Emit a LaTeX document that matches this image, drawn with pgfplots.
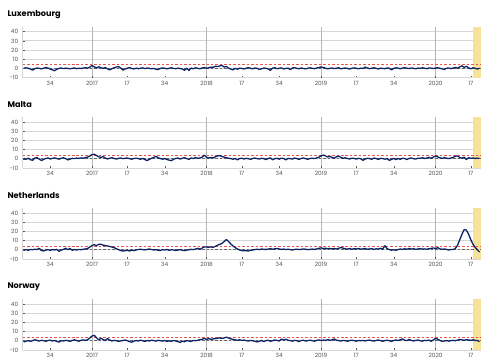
\documentclass[border=0pt]{standalone}
\usepackage{fontspec}
\setmainfont{Poppins}
\usepackage{pgfplots}
\pgfplotsset{compat=1.18}
\definecolor{navy}{HTML}{0B2466}
\definecolor{redz}{HTML}{E8554E}
\definecolor{band}{HTML}{F7E29A}
\definecolor{gridc}{HTML}{D6D6D6}
\definecolor{yearc}{HTML}{B5B5B5}
\definecolor{tickc}{HTML}{555555}
\pgfplotsset{
  panel/.style={
    scale only axis, width=458bp, height=50.6bp,
    xmin=-31.5, xmax=176.5, ymin=-10, ymax=45,
    axis lines*=left, axis line style={gridc, line width=0.8pt},
    ytick={-10,0,10,20,30,40},
    ymajorgrids, major grid style={gridc, line width=0.8pt},
    xtick={-19,0,16,33,52,68,85,104,120,137,156,172},
    xticklabels={34,2017,17,34,2018,17,34,2019,17,34,2020,17},
    extra x ticks={0,52,104,156}, extra x tick labels={},
    extra x tick style={grid=major, major grid style={yearc, line width=0.7pt}},
    tick style={tickc, line width=0.4pt}, major tick length=2bp,
    ticklabel style={font=\fontsize{5.8}{6}\selectfont, text=tickc},
    /pgf/number format/assume math mode=true,
    yticklabel style={xshift=-1bp},
    clip=false,
  },
  zline/.style={navy, line width=1.3bp, line join=round},
}
\newcommand{\panelextras}{%
  \fill[band] (axis cs:173,-10) rectangle (axis cs:176.5,45);
  \addplot[gray!80!black, dash pattern=on 2.5pt off 2pt, line width=0.9pt] coordinates {(-31.5,0) (176.5,0)};
  \addplot[redz, dash pattern=on 2.5pt off 2pt, line width=0.8pt] coordinates {(-31.5,4) (176.5,4)};
}
\begin{document}
\begin{tikzpicture}
\useasboundingbox (0,0) rectangle (485bp,362bp);
% Luxembourg
\begin{axis}[panel, at={(22.7bp,284.3bp)}, anchor=south west]
\panelextras
\addplot[zline] table[row sep=\\, y index=0, x expr=\coordindex-31] {y\\
0.2\\0.8\\0.3\\-0.5\\-1.8\\-0.2\\0.6\\0.1\\-0.4\\0.3\\
1.2\\0.4\\-0.6\\-1.5\\-2.4\\-0.8\\0.2\\0.5\\-0.1\\0.4\\
0.1\\-0.3\\0.2\\0.6\\-0.2\\0.3\\0.0\\0.5\\0.9\\0.4\\
1.5\\3.2\\1.8\\0.6\\1.9\\0.8\\0.2\\1.1\\-0.4\\-1.5\\
-0.3\\0.8\\1.6\\2.1\\0.5\\-1.8\\-0.6\\0.3\\0.9\\0.1\\
-0.5\\0.4\\-0.2\\0.3\\0.7\\-0.1\\0.5\\0.2\\-0.3\\0.1\\
-0.8\\-1.2\\0.1\\0.6\\0.3\\-0.4\\0.2\\0.8\\0.1\\-0.2\\
0.4\\0.0\\-0.6\\-1.9\\0.3\\-2.1\\0.5\\-0.3\\0.8\\0.2\\
-0.4\\0.6\\1.0\\0.3\\0.8\\1.5\\1.2\\2.4\\2.1\\2.8\\
3.4\\1.6\\2.2\\0.4\\-0.6\\-1.5\\0.2\\-0.8\\0.4\\0.1\\
-0.5\\0.3\\0.9\\0.2\\-0.4\\0.6\\0.1\\-1.0\\-0.3\\0.5\\
0.2\\-0.6\\-2.0\\0.4\\0.8\\-0.2\\0.3\\0.7\\-0.5\\0.1\\
0.4\\-1.2\\0.5\\0.9\\0.2\\-0.3\\0.6\\0.0\\-0.4\\0.3\\
0.8\\0.2\\-0.2\\0.5\\1.0\\1.6\\1.2\\0.4\\-0.3\\0.2\\
0.6\\-0.1\\0.3\\0.9\\-0.4\\0.2\\0.5\\0.1\\-0.6\\0.3\\
0.7\\0.2\\-0.3\\0.4\\0.0\\1.5\\0.6\\-0.2\\0.3\\0.8\\
0.2\\-0.5\\0.4\\0.1\\-0.2\\0.6\\0.3\\-1.6\\0.2\\0.7\\
0.4\\-0.3\\0.5\\0.9\\0.3\\-0.1\\0.6\\0.2\\-0.4\\0.5\\
0.1\\0.8\\0.3\\-0.2\\0.6\\0.4\\0.0\\0.5\\0.9\\0.2\\
-0.4\\-1.0\\0.3\\0.6\\-0.2\\0.5\\1.2\\0.3\\1.8\\2.9\\
1.2\\2.4\\0.6\\-0.3\\0.8\\0.2\\-0.5\\0.3\\
};
\end{axis}
% Malta
\begin{axis}[panel, at={(22.7bp,194bp)}, anchor=south west]
\panelextras
\addplot[zline] table[row sep=\\, y index=0, x expr=\coordindex-31] {y\\
0.3\\-0.5\\0.6\\-1.0\\-1.6\\0.8\\1.2\\-0.3\\-1.8\\-0.6\\
0.4\\0.9\\-0.2\\0.5\\1.0\\0.3\\-0.4\\0.6\\1.1\\0.2\\
-1.2\\-0.3\\0.5\\0.2\\0.8\\0.4\\1.0\\0.6\\1.3\\1.8\\
3.0\\4.6\\4.9\\3.6\\2.2\\1.5\\2.4\\0.8\\-0.2\\0.6\\
1.2\\0.4\\-0.3\\0.5\\0.8\\0.2\\0.6\\0.9\\0.1\\-0.4\\
0.3\\0.7\\0.2\\-0.5\\0.4\\-0.8\\-1.9\\-0.6\\0.5\\1.4\\
2.6\\1.2\\0.3\\-0.4\\0.2\\-0.8\\-1.4\\-2.0\\-0.5\\0.4\\
0.8\\-0.3\\0.6\\1.2\\0.2\\-0.6\\0.9\\0.3\\1.4\\0.5\\
1.0\\1.8\\3.9\\1.6\\0.9\\1.3\\1.0\\2.2\\3.1\\3.4\\
2.5\\1.8\\1.2\\0.6\\0.2\\-0.5\\0.4\\-1.2\\0.3\\0.6\\
-0.2\\0.5\\0.1\\-0.6\\0.4\\0.8\\0.2\\-0.3\\0.6\\0.1\\
-0.8\\0.4\\0.9\\-1.0\\0.2\\0.5\\-0.4\\0.7\\0.3\\-1.2\\
0.5\\0.1\\-0.3\\0.8\\0.2\\-0.6\\0.4\\0.9\\0.1\\-0.5\\
0.3\\0.7\\0.2\\0.9\\1.8\\3.0\\4.1\\3.2\\1.9\\2.6\\
1.4\\0.8\\2.2\\2.9\\1.6\\0.5\\1.1\\0.3\\-0.2\\0.6\\
0.4\\-0.3\\0.5\\0.1\\-1.6\\-0.4\\0.6\\0.2\\-0.5\\0.8\\
0.3\\-0.7\\0.5\\0.2\\-0.4\\0.1\\-1.7\\-0.6\\0.4\\-0.9\\
0.2\\-0.5\\0.6\\0.3\\-0.8\\0.4\\0.9\\0.1\\-0.3\\0.7\\
0.5\\1.2\\0.4\\0.8\\1.6\\0.6\\1.9\\3.2\\2.0\\1.1\\
0.4\\1.3\\0.6\\0.2\\0.9\\1.5\\2.8\\3.1\\1.4\\0.6\\
1.8\\-0.8\\1.2\\0.5\\0.9\\0.4\\0.7\\0.5\\
};
\end{axis}
% Netherlands
\begin{axis}[panel, at={(22.7bp,103bp)}, anchor=south west]
\panelextras
\addplot[zline] table[row sep=\\, y index=0, x expr=\coordindex-31] {y\\
-0.3\\0.2\\-0.5\\0.4\\0.1\\0.6\\0.3\\1.6\\-0.8\\-1.2\\
-0.4\\0.2\\-0.6\\0.3\\-0.2\\0.5\\-1.6\\-0.3\\0.4\\1.8\\
0.2\\1.4\\-0.5\\0.3\\-0.2\\0.4\\0.1\\0.6\\0.9\\1.5\\
3.0\\4.5\\5.6\\4.4\\5.9\\6.0\\5.1\\4.6\\4.2\\3.6\\
3.0\\2.4\\1.2\\0.2\\-0.8\\-1.3\\-1.0\\-0.6\\-1.2\\-0.4\\
-0.9\\-0.2\\0.3\\0.6\\0.2\\-0.1\\0.4\\0.8\\0.3\\-0.2\\
0.1\\-0.5\\-0.8\\0.2\\-0.3\\0.4\\-0.6\\0.1\\-0.2\\-0.7\\
-0.3\\0.2\\-0.5\\-0.9\\-0.4\\0.1\\0.5\\0.2\\0.8\\1.6\\
0.6\\1.9\\3.1\\3.0\\2.8\\3.2\\2.6\\3.8\\5.0\\5.9\\
7.0\\8.9\\11.2\\9.0\\6.3\\4.2\\2.4\\1.0\\-0.2\\-0.8\\
-1.1\\-0.9\\-1.3\\-0.6\\-0.2\\0.3\\0.6\\0.2\\0.9\\0.5\\
0.4\\0.8\\1.2\\0.6\\1.1\\1.5\\0.9\\0.4\\0.8\\0.3\\
0.6\\0.2\\-0.2\\0.4\\0.7\\0.3\\0.5\\0.9\\0.6\\0.2\\
0.5\\0.8\\0.4\\0.9\\1.6\\2.1\\1.4\\1.7\\1.2\\1.5\\
1.0\\1.4\\0.9\\1.6\\2.5\\1.8\\1.1\\0.8\\1.3\\0.6\\
1.2\\0.9\\1.4\\0.7\\1.0\\1.5\\0.6\\0.9\\1.3\\0.4\\
1.1\\0.8\\1.6\\0.9\\4.4\\1.3\\0.2\\-0.4\\0.1\\-0.6\\
0.3\\0.9\\0.5\\1.1\\0.6\\1.4\\0.8\\1.2\\0.5\\0.9\\
1.3\\0.7\\1.0\\0.6\\1.2\\1.5\\2.0\\1.4\\2.3\\1.0\\
0.5\\0.9\\0.4\\-0.2\\0.3\\0.3\\1.5\\5.0\\11.0\\17.0\\
22.0\\21.4\\17.0\\11.0\\6.0\\2.5\\0.0\\-2.5\\
};
\end{axis}
% Norway
\begin{axis}[panel, at={(22.7bp,12bp)}, anchor=south west]
\panelextras
\addplot[zline] table[row sep=\\, y index=0, x expr=\coordindex-31] {y\\
-1.2\\-0.4\\0.3\\-0.6\\0.2\\1.2\\0.4\\-0.3\\0.5\\0.1\\
-0.5\\0.3\\0.6\\-0.2\\0.4\\-0.8\\-1.4\\0.2\\-0.3\\0.5\\
0.1\\-0.6\\0.4\\1.1\\0.3\\-0.5\\0.6\\1.0\\0.4\\1.3\\
3.2\\5.2\\5.9\\3.4\\1.0\\2.8\\1.4\\0.3\\2.4\\0.9\\
-0.2\\0.5\\0.1\\-0.6\\-0.2\\0.4\\0.8\\0.2\\-0.9\\-1.5\\
-0.4\\0.3\\-0.2\\0.6\\0.1\\-0.8\\0.4\\-0.3\\0.7\\0.2\\
-0.4\\0.5\\0.1\\-0.3\\0.2\\-0.6\\0.0\\-0.5\\0.3\\-0.2\\
-0.9\\-1.8\\-0.4\\-1.0\\0.2\\-0.3\\-0.7\\0.4\\0.1\\0.6\\
1.2\\1.7\\2.6\\1.4\\2.5\\1.6\\2.0\\2.4\\2.8\\3.2\\
2.6\\3.1\\4.0\\3.0\\2.2\\1.4\\1.0\\0.6\\1.1\\0.5\\
0.8\\0.2\\-0.3\\0.4\\0.0\\-0.6\\-1.2\\-0.4\\0.3\\-0.8\\
0.2\\0.6\\-0.5\\0.1\\0.9\\0.4\\-0.3\\1.9\\0.8\\1.8\\
0.6\\0.3\\-0.4\\0.5\\0.1\\-0.8\\0.3\\0.6\\-0.3\\0.2\\
0.7\\0.1\\-0.4\\0.5\\0.9\\0.3\\0.8\\0.4\\1.2\\0.6\\
1.0\\2.0\\0.7\\0.2\\-0.3\\0.4\\0.1\\-0.5\\0.3\\0.6\\
0.2\\-0.4\\0.3\\0.0\\0.5\\-0.2\\0.4\\0.8\\0.1\\-0.3\\
0.4\\0.9\\0.2\\-0.5\\0.3\\0.6\\0.1\\-0.6\\0.4\\0.9\\
0.3\\1.2\\2.1\\0.6\\0.2\\1.4\\0.5\\-0.2\\0.4\\0.8\\
0.1\\-0.4\\0.5\\0.2\\0.8\\-0.5\\1.0\\2.8\\1.6\\0.4\\
-0.6\\-0.2\\0.3\\-0.4\\0.2\\0.5\\0.1\\0.8\\1.4\\1.0\\
0.6\\1.2\\0.9\\0.4\\1.1\\0.5\\0.2\\-0.8\\
};
\end{axis}
\node[anchor=west, font=\fontsize{8.2}{9}\selectfont\bfseries] at (4bp,347bp) {Luxembourg};
\node[anchor=west, font=\fontsize{8.2}{9}\selectfont\bfseries] at (4bp,257bp) {Malta};
\node[anchor=west, font=\fontsize{8.2}{9}\selectfont\bfseries] at (4bp,166bp) {Netherlands};
\node[anchor=west, font=\fontsize{8.2}{9}\selectfont\bfseries] at (4bp,75bp) {Norway};
\end{tikzpicture}
\end{document}
